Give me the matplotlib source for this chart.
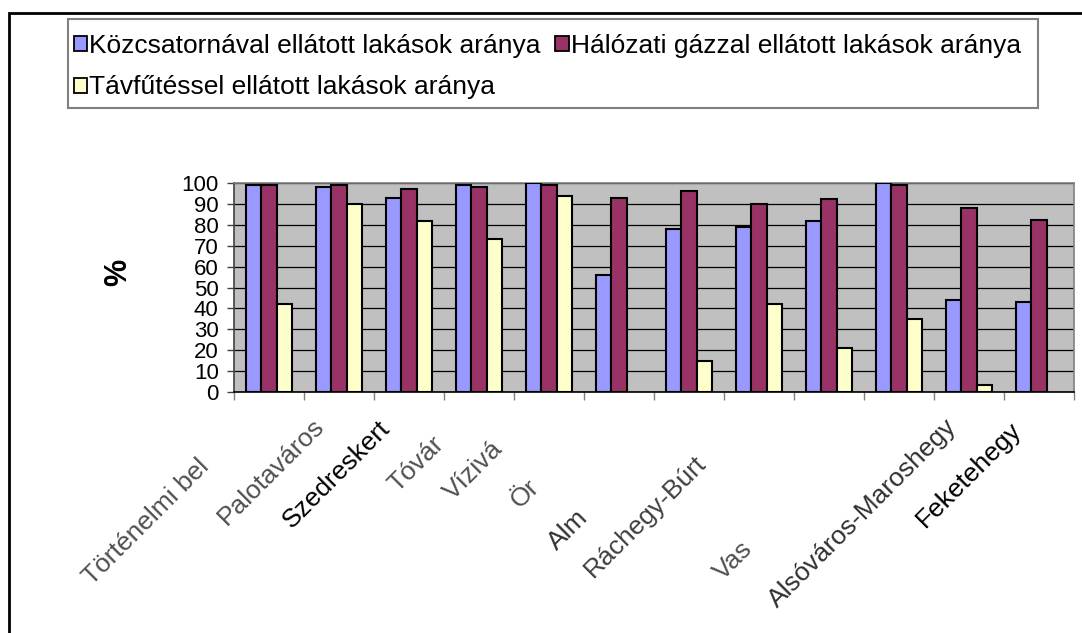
import numpy as np
import matplotlib.pyplot as plt
from matplotlib.patches import Patch, Rectangle

plt.rcParams['font.family'] = ['Liberation Sans', 'DejaVu Sans']

# data
labels = ["Történelmi bel", "Palotaváros", "Szedreskert", "Tóvár", "Vízivá", "Ör",
          "Alm", "Ráchegy-Búrt", "", "Vas", "Alsóváros-Maroshegy", "Feketehegy"]
kozcsatorna = [99, 98, 93, 99, 100, 56, 78, 79, 82, 100, 44, 43]
gaz = [99, 99, 97, 98, 99, 93, 96, 90, 92.5, 99, 88, 82.5]
tavfutes = [42, 90, 82, 73, 94, np.nan, 15, 42, 21, 35, 3.4, np.nan]
series_names = ["Közcsatornával ellátott lakások aránya",
                "Hálózati gázzal ellátott lakások aránya",
                "Távfűtéssel ellátott lakások aránya"]
colors = ["#9999FF", "#993366", "#FFFFCC"]

# label placement (pixels from category centre, start of text)
lab_dx = [-177, -112, -117, -82, -96, -99, -132, -166, 0, -176, -192, -114]
lab_dy = [194, 134, 137, 101, 109, 117, 159, 186, 0, 189, 216, 136]
lab_col = ["#505050", "#505050", "black", "#505050", "#505050", "#505050",
           "#303030", "#404040", "black", "#505050", "#303030", "black"]

W, H = 1082, 633
fig = plt.figure(figsize=(W / 100, H / 100), dpi=100)
fig.patch.set_facecolor("white")

# outer frame (only left and top visible)
fig.add_artist(Rectangle((9 / W, -0.1), 1.2, 1.1 - 13 / H, transform=fig.transFigure,
                         fill=False, edgecolor="black", lw=2))

ax = fig.add_axes([234 / W, 1 - 392 / H, (1074 - 234) / W, (392 - 183) / H])
ax.set_facecolor("#C0C0C0")

x = np.arange(len(labels))
w = 0.219
series = [kozcsatorna, gaz, tavfutes]
for k, (vals, c) in enumerate(zip(series, colors)):
    ax.bar(x + (k - 1) * w, vals, w, color=c, edgecolor="black", linewidth=1.5, zorder=3)

ax.set_xlim(-0.5, len(labels) - 0.5)
ax.set_ylim(0, 100)
ax.set_yticks(range(0, 101, 10))
ax.yaxis.grid(True, color="black", lw=0.9, zorder=1)
ax.tick_params(axis="y", labelsize=16, length=5, width=1, pad=6, color="#404040")

ax.set_xticks(np.arange(-0.5, len(labels), 1))
ax.set_xticklabels([])
ax.tick_params(axis="x", length=6, width=1, color="#808080")

for s in ["top", "right"]:
    ax.spines[s].set_color("#808080")
    ax.spines[s].set_linewidth(1.2)
ax.spines["left"].set_color("#404040")
ax.spines["bottom"].set_color("black")
ax.spines["left"].set_linewidth(1.2)
ax.spines["bottom"].set_linewidth(1.2)

for i, lab in enumerate(labels):
    ax.annotate(lab, xy=(i, 0), xycoords=("data", "axes fraction"),
                xytext=(lab_dx[i], -lab_dy[i]), textcoords="offset pixels",
                rotation=45, rotation_mode="anchor", ha="left", va="baseline",
                fontsize=19, color=lab_col[i], annotation_clip=False)

fig.text(118 / W, 1 - 272 / H, "%", rotation=90, ha="center", va="center",
         fontsize=22, fontweight="bold")

# legend box drawn separately, entries placed inside it
fig.add_artist(Rectangle((68 / W, 1 - 108 / H), (1038 - 68) / W, (108 - 19) / H,
                         transform=fig.transFigure, fill=False,
                         edgecolor="#808080", lw=1.5))
handles = [Patch(facecolor=c, edgecolor="black", lw=1.3) for c in colors]
order = [0, 2, 1]
leg = fig.legend([handles[i] for i in order], [series_names[i] for i in order],
                 ncol=2, loc="upper left", bbox_to_anchor=(74 / W, 1 - 34 / H),
                 bbox_transform=fig.transFigure, fontsize=19, frameon=False,
                 handlelength=0.5, handleheight=0.5,
                 handletextpad=0.08, columnspacing=0.55, borderpad=0,
                 labelspacing=0.66, borderaxespad=0)

fig.savefig("out.png", dpi=100)
